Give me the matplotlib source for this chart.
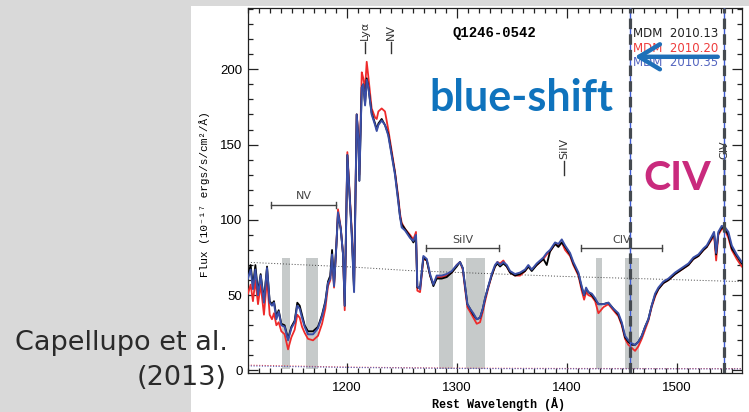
import numpy as np
import matplotlib
matplotlib.use("Agg")
from matplotlib import pyplot as plt
from matplotlib.patches import Rectangle
from matplotlib.ticker import MultipleLocator

# rest-frame wavelength grid (Angstrom)
wave = [1110.0, 1112.4, 1114.5, 1116.7, 1119.1, 1121.5, 1124.5, 1127.3, 1129.7, 1131.8,
        1133.6, 1135.8, 1137.9, 1140.3, 1143.3, 1146.4, 1149.4, 1152.4, 1154.8, 1157.0,
        1159.1, 1161.5, 1164.5, 1169.1, 1173.6, 1177.3, 1180.3, 1182.7, 1184.8, 1186.4,
        1188.2, 1190.3, 1191.8, 1194.3, 1196.4, 1197.9, 1200.3, 1204.3, 1206.4, 1208.8,
        1210.3, 1211.2, 1213.4, 1214.8, 1216.4, 1217.9, 1219.4, 1222.4, 1225.5, 1227.0,
        1228.5, 1231.5, 1234.5, 1237.5, 1240.6, 1243.6, 1246.6, 1248.2, 1249.7, 1252.7,
        1257.3, 1260.3, 1262.7, 1263.9, 1266.4, 1269.4, 1272.5, 1275.5, 1278.5, 1281.5,
        1286.1, 1290.6, 1295.2, 1299.7, 1302.7, 1305.2, 1307.3, 1309.4, 1311.8, 1314.8,
        1317.9, 1320.9, 1323.4, 1325.5, 1328.5, 1331.5, 1334.5, 1336.7, 1339.1, 1342.1,
        1345.2, 1348.2, 1352.7, 1357.3, 1361.8, 1364.8, 1367.9, 1372.4, 1378.5, 1381.5,
        1384.5, 1389.1, 1392.1, 1395.2, 1398.2, 1402.7, 1405.7, 1410.3, 1413.3, 1415.5,
        1417.3, 1419.4, 1422.5, 1425.5, 1428.5, 1433.0, 1437.5, 1442.1, 1446.6, 1449.7,
        1452.7, 1455.7, 1458.8, 1461.8, 1464.8, 1467.9, 1470.9, 1473.9, 1476.9, 1480.0,
        1483.0, 1487.5, 1492.1, 1498.2, 1504.3, 1510.3, 1514.8, 1519.4, 1524.0, 1527.0,
        1531.5, 1533.6, 1535.5, 1537.5, 1540.6, 1543.6, 1546.6, 1549.7, 1554.2, 1558.8]

# MDM 2010.13
flux_13 = [63, 70, 56, 70, 52, 64, 47, 69, 46, 44,
           46, 36, 40, 31, 30, 21, 29, 33, 45, 43,
           37, 30, 26, 26, 29, 37, 46, 59, 63, 80,
           57, 83, 104, 94, 77, 43, 143, 91, 53, 170,
           154, 126, 188, 190, 177, 194, 188, 171, 164, 160,
           164, 167, 163, 157, 144, 131, 113, 102, 97, 94,
           89, 85, 88, 55, 55, 75, 73, 63, 56, 61,
           61, 62, 65, 69, 72, 68, 56, 44, 41, 37,
           34, 35, 41, 48, 56, 63, 69, 71, 69, 71,
           69, 65, 63, 64, 66, 69, 66, 70, 74, 70,
           79, 84, 82, 85, 82, 77, 71, 64, 55, 50,
           54, 52, 50, 47, 44, 44, 45, 41, 37, 31,
           22, 19, 17, 17, 19, 23, 29, 34, 43, 50,
           54, 58, 60, 64, 67, 70, 74, 76, 80, 82,
           88, 91, 77, 91, 95, 94, 90, 81, 76, 71]

# MDM 2010.20
flux_20 = [51, 57, 46, 60, 44, 57, 37, 61, 37, 34,
           38, 30, 32, 26, 24, 14, 22, 27, 37, 35,
           29, 25, 21, 20, 23, 31, 41, 56, 60, 76,
           55, 83, 107, 95, 77, 40, 145, 93, 56, 170,
           156, 130, 198, 194, 187, 205, 195, 174, 168, 167,
           172, 174, 172, 160, 146, 132, 115, 104, 98, 94,
           90, 87, 92, 53, 52, 74, 73, 63, 57, 62,
           62, 63, 65, 70, 72, 67, 54, 42, 39, 35,
           31, 32, 39, 46, 55, 63, 69, 72, 71, 73,
           69, 65, 63, 63, 66, 69, 67, 70, 74, 77,
           79, 84, 83, 85, 80, 76, 70, 63, 53, 47,
           52, 50, 49, 46, 38, 42, 44, 40, 36, 30,
           21, 17, 15, 13, 16, 21, 27, 33, 42, 49,
           54, 58, 60, 64, 67, 70, 74, 76, 80, 82,
           87, 90, 73, 90, 94, 93, 88, 80, 74, 69]

# MDM 2010.35
flux_35 = [61, 67, 54, 67, 50, 63, 45, 68, 45, 43,
           45, 34, 39, 30, 29, 20, 28, 32, 43, 41,
           35, 29, 24, 24, 28, 36, 45, 58, 61, 77,
           56, 83, 105, 94, 77, 43, 143, 90, 52, 170,
           154, 126, 188, 190, 176, 193, 188, 170, 163, 159,
           163, 166, 163, 156, 143, 130, 112, 102, 95, 93,
           88, 86, 90, 56, 54, 76, 74, 64, 57, 63,
           63, 64, 66, 70, 72, 68, 56, 44, 41, 38,
           34, 35, 41, 48, 56, 64, 70, 72, 70, 72,
           70, 66, 64, 65, 67, 70, 67, 71, 75, 78,
           80, 85, 84, 87, 83, 78, 72, 65, 56, 50,
           55, 52, 51, 48, 44, 44, 45, 41, 38, 32,
           23, 20, 18, 17, 19, 23, 29, 34, 43, 51,
           55, 59, 61, 65, 68, 71, 75, 77, 81, 83,
           89, 92, 78, 92, 96, 95, 92, 83, 77, 72]

# power-law continuum
cont_wave = [1110, 1204, 1257, 1394, 1559]
cont_flux = [71.8, 68.7, 66.3, 62.5, 59.0]

# error spectra near zero
err_wave = [1110, 1200, 1300, 1400, 1560]
err_20 = [3.5, 2.2, 1.5, 1.3, 1.2]
err_35 = [3.0, 2.0, 1.3, 1.1, 1.0]

# shaded absorption windows
band_lo = [1141.0, 1163.0, 1284.0, 1308.0, 1426.0, 1452.5]
band_hi = [1148.0, 1174.0, 1296.0, 1325.5, 1432.0, 1465.0]
band_top = 75

# line ids at the top
line_names = ['Ly\u03b1', 'NV', 'SiIV', 'CIV']
line_waves = [1216.0, 1240.0, 1397.0, 1543.0]
line_lo = [211, 211, 130, 130]
line_hi = [218, 218, 139, 139]

# absorption-region brackets
brk_names = ['NV', 'SiIV', 'CIV']
brk_lo = [1130.6, 1271.8, 1412.5]
brk_hi = [1190.3, 1338.5, 1486.6]
brk_y = [110, 81, 81]

# epochs
epochs = ['MDM  2010.13', 'MDM  2010.20', 'MDM  2010.35']
epoch_colors = ['#222222', '#ee3b3b', '#5566c0']

civ_marks = [1457.5, 1542.7]

W, H = 749, 412
fig = plt.figure(figsize=(W / 100, H / 100), dpi=100, facecolor='#d9d9d9')
fig.patches.append(Rectangle((191 / W, 0), (W - 191) / W, (H - 6) / H,
                             transform=fig.transFigure, facecolor='white',
                             edgecolor='none', zorder=-10))

ax = fig.add_axes([248 / W, 1 - 372.7 / H, (742 - 248) / W, (372.7 - 8.3) / H])
ax.set_xlim(1110, 1559)
ax.set_ylim(-1.5, 240.5)

for lo, hi in zip(band_lo, band_hi):
    ax.add_patch(Rectangle((lo, 1), hi - lo, band_top - 1, facecolor='#c6caca',
                           edgecolor='none', zorder=1))

ax.plot(cont_wave, cont_flux, color='#444444', lw=0.7, ls=(0, (1, 2)), zorder=2)
ax.plot(err_wave, err_20, color='#ee3b3b', lw=0.8, ls=(0, (1, 1.5)), zorder=2)
ax.plot(err_wave, err_35, color='#5566c0', lw=0.8, ls=(0, (1, 1.5)), zorder=2)

ax.plot(wave, flux_20, color='#ee2a2a', lw=1.3, zorder=3)
ax.plot(wave, flux_13, color='black', lw=1.3, zorder=4)
ax.plot(wave, flux_35, color='#3a4ea6', lw=1.4, zorder=5)

# line identifications
for name, w, lo, hi in zip(line_names, line_waves, line_lo, line_hi):
    ax.plot([w, w], [lo, hi], color='#333333', lw=1, zorder=3)
    ax.text(w, hi + 1.5, name, rotation=90, ha='center', va='bottom',
            fontsize=8, color='#333333', family='DejaVu Sans')

for name, lo, hi, y in zip(brk_names, brk_lo, brk_hi, brk_y):
    ax.plot([lo, hi], [y, y], color='#444444', lw=1, zorder=3)
    ax.plot([lo, lo], [y - 2, y + 2], color='#444444', lw=1, zorder=3)
    ax.plot([hi, hi], [y - 2, y + 2], color='#444444', lw=1, zorder=3)
    ax.text((lo + hi) / 2, y + 2.5, name, ha='center', va='bottom',
            fontsize=8, color='#444444', family='DejaVu Sans')

# CIV markers
for w in civ_marks:
    ax.axvline(w, color='#3c5ad2', lw=1, zorder=6)
    ax.axvline(w, color='#454a50', lw=2.3, ls=(0, (3.3, 1.6)), zorder=7)

for i, (txt, c) in enumerate(zip(epochs, epoch_colors)):
    ax.text(1459.7, 223.5 - 9.6 * i, txt, color=c, fontsize=8.5,
            family='DejaVu Sans', ha='left', va='center', zorder=8)

ax.annotate('', xy=(1459.0, 208.3), xytext=(1539.5, 208.3),
            arrowprops=dict(arrowstyle='->,head_length=0.75,head_width=0.45',
                            lw=3.2, color='#1f70b8', mutation_scale=20),
            zorder=9)

ax.text(1274.5, 172, 'blue-shift', color='#0f73bd', fontsize=31,
        family='Lato', weight='bold', ha='left', va='baseline', zorder=9)
ax.text(1469.0, 120, 'CIV', color='#c92a7d', fontsize=29.5,
        family='Lato', weight='bold', ha='left', va='baseline', zorder=9)

ax.text(0.498, 0.931, 'Q1246-0542', transform=ax.transAxes, ha='center',
        va='center', fontsize=10, family='Liberation Mono', weight='bold')
ax.text(0.508, -0.085, 'Rest Wavelength (\u00c5)', transform=ax.transAxes,
        ha='center', va='center', fontsize=8.5,
        family=['Liberation Mono', 'DejaVu Sans Mono'], weight='bold')
ax.text(-0.087, 0.49, 'Flux (10\u207b\u00b9\u2077 ergs/s/cm\u00b2/\u00c5)',
        transform=ax.transAxes, rotation=90, ha='center', va='center',
        fontsize=8, family=['Liberation Mono', 'DejaVu Sans Mono'])

# axes and ticks
ax.xaxis.set_major_locator(MultipleLocator(100))
ax.xaxis.set_minor_locator(MultipleLocator(10))
ax.yaxis.set_major_locator(MultipleLocator(50))
ax.yaxis.set_minor_locator(MultipleLocator(10))
ax.tick_params(which='both', direction='in', top=True, right=True,
               width=0.9, color='#222222')
ax.tick_params(which='major', length=7)
ax.tick_params(which='minor', length=3.5)
ax.tick_params(axis='x', pad=7)
ax.tick_params(axis='y', pad=4)
for lab in ax.get_xticklabels() + ax.get_yticklabels():
    lab.set_family('Liberation Sans')
    lab.set_fontsize(9.5)
for s in ax.spines.values():
    s.set_linewidth(0.9)
    s.set_color('#222222')

fig.text(228 / W, 1 - 350 / H, 'Capellupo et al.', ha='right',
         va='baseline', fontsize=19.5, family='DejaVu Sans', color='#2a2a2a')
fig.text(227 / W, 1 - 385 / H, '(2013)', ha='right', va='baseline',
         fontsize=19.5, family='DejaVu Sans', color='#2a2a2a')

fig.savefig('out.png', dpi=100, facecolor=fig.get_facecolor())
